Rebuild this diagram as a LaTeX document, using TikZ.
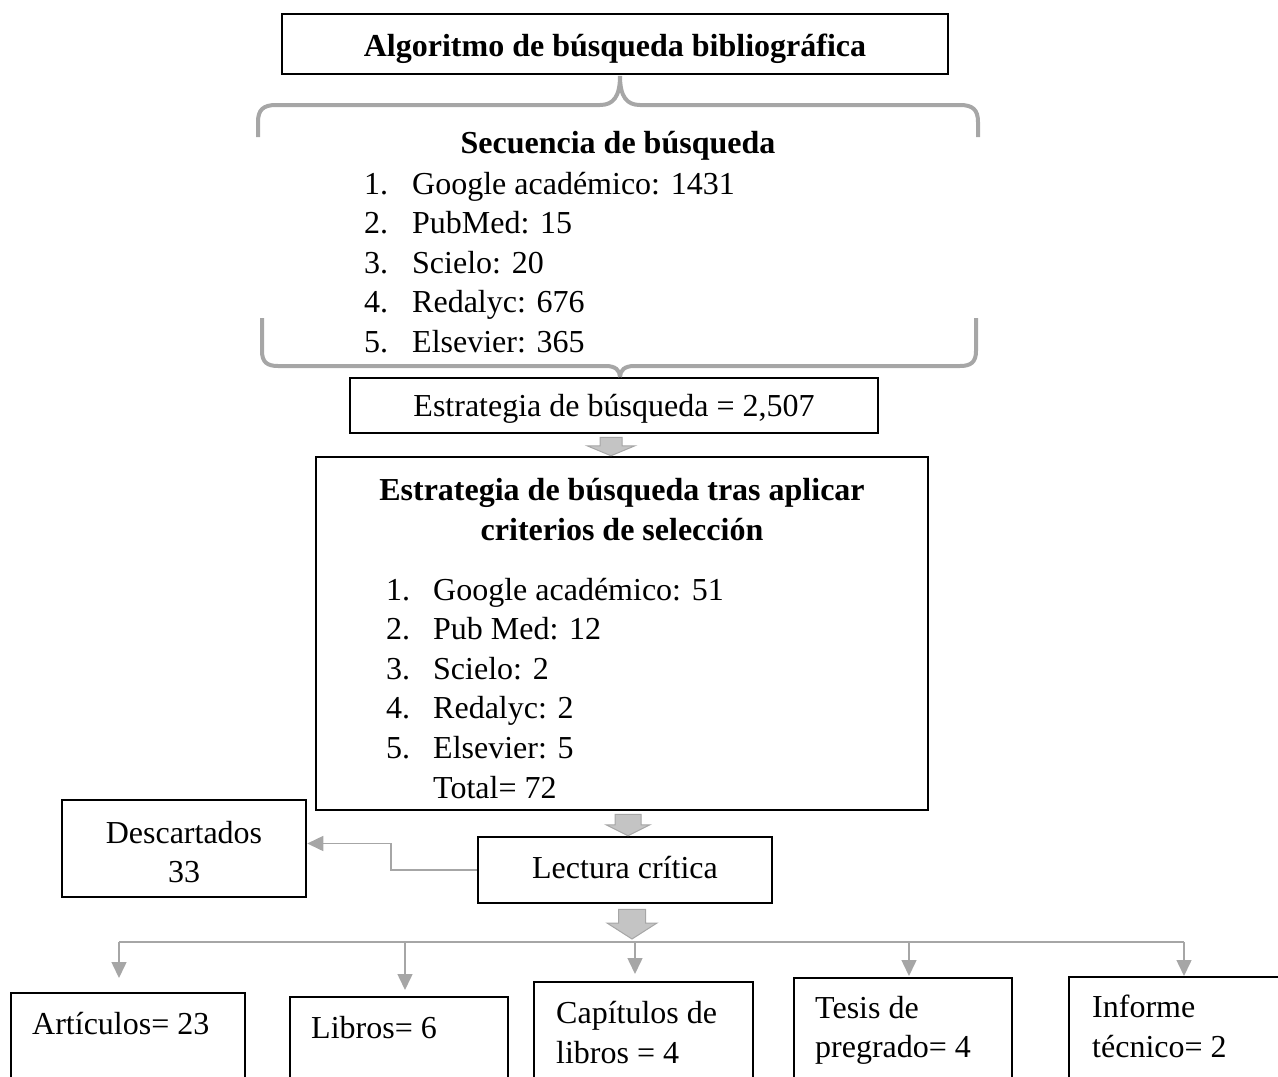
\documentclass[tikz,border=0pt]{standalone}
\usepackage{fontspec}
\setmainfont{Liberation Serif}
\usetikzlibrary{arrows.meta,calc}

\definecolor{bracegray}{HTML}{A6A6A6}
\definecolor{linegray}{HTML}{A6A6A6}
\definecolor{blockgray}{HTML}{C4C4C4}

\begin{document}
\begin{tikzpicture}[x=1pt,y=-1pt,
	every node/.style={font=\fontsize{32}{40}\selectfont, inner sep=0pt},
	box/.style={draw, line width=2.5pt},
	txt/.style={anchor=base west},
	ctxt/.style={anchor=base},
	bold/.style={anchor=base, font=\fontsize{32}{40}\selectfont\bfseries},
	brace/.style={draw=bracegray, line width=4pt},
	thinline/.style={draw=linegray, line width=1.5pt},
	thinarrow/.style={thinline, -{Triangle[width=15pt,length=16pt]}},
	blockfill/.style={fill=blockgray, draw=linegray, line width=1pt},
]

\path [use as bounding box] (0,0) rectangle (1278,1077);
\clip (0,0) rectangle (1278,1077);

% BOXES
\node [box, minimum width=666, minimum height=60] (algoritmo) at (615,44) {};
\node [box, minimum width=528, minimum height=55] (estrategia) at (614,405.5) {};
\node [box, minimum width=612, minimum height=353] (criterios) at (622,633.5) {};
\node [box, minimum width=244, minimum height=97] (descartados) at (184,848.5) {};
\node [box, minimum width=294, minimum height=66] (lectura) at (625,870) {};

% RESULT BOXES (cut by the page bottom)
\foreach \name/\l/\t/\r in {articulos/11/993/245, libros/290/997/508,
	capitulos/534/982/753, tesis/794/978/1012, informe/1069/977/1300} {
	\node [box, minimum width=\r-\l, minimum height=1110-\t]
		(\name) at ({(\l+\r)/2},{(\t+1110)/2}) {};
}

% BRACES
\draw [brace] (258,137) -- (258,122) .. controls (258,110) and (263,105) .. (276,105)
	-- (600,105) .. controls (613,105) and (620,97) .. (620,76);
\draw [brace] (978,137) -- (978,122) .. controls (978,110) and (973,105) .. (960,105)
	-- (640,105) .. controls (627,105) and (620,97) .. (620,76);
\draw [brace] (262,318) -- (262,351) .. controls (262,362) and (267,366) .. (278,366)
	-- (606,366) .. controls (615,366) and (620,370) .. (620,377);
\draw [brace] (976,318) -- (976,351) .. controls (976,362) and (971,366) .. (960,366)
	-- (634,366) .. controls (625,366) and (620,370) .. (620,377);

% BLOCK ARROWS
% #1 : from
% #2 : to (tip)
% #3 : shaft half width
% #4 : head half width
% #5 : head length
\newcommand{\blockarrow}[5]{%
	\path [blockfill] let \p1 = (#1), \p2 = (#2) in
		(\x1-#3,\y1) -- (\x1+#3,\y1) -- (\x1+#3,\y2+#5) -- (\x1+#4,\y2+#5) --
		(\x1,\y2) -- (\x1-#4,\y2+#5) -- (\x1-#3,\y2+#5) -- cycle%
}
\coordinate (bus) at (0,942);
\blockarrow{$(estrategia.south)+(-3,3)$}{criterios.north}{11pt}{24pt}{10pt};
\blockarrow{$(criterios.south)+(6,3)$}{lectura.north}{13pt}{22pt}{11pt};
\blockarrow{$(lectura.south)+(7,5)$}{$(bus)+(0,-3)$}{13.5pt}{25pt}{16pt};

% CONNECTORS
\draw [thinarrow] (lectura.west) -- ++(-86,0) |- ($(descartados.east)+(0,-5)$);
\foreach \x/\y [count=\i] in {119/978, 405/990, 635/974, 909/976, 1184/976} {
	\coordinate (tip\i) at (\x,\y);
	\draw [thinarrow] (tip\i |- bus) -- (tip\i);
}
\draw [thinline] (tip1 |- bus) -- (tip5 |- bus);

% TEXTS
\node [bold] (algoritmo-t) at (615,56) {Algoritmo de búsqueda bibliográfica};
\node [bold] (secuencia-t) at (618,153) {Secuencia de búsqueda};
\foreach \txt [count=\i] in {Google académico: 1431, PubMed: 15, Scielo: 20,
	Redalyc: 676, Elsevier: 365} {
	\node [txt] (secuencia-n\i) at (364,{194+39.5*(\i-1)}) {\i.};
	\node [txt] (secuencia-i\i) at (412,{194+39.5*(\i-1)}) {\txt};
}
\node [ctxt] (estrategia-t) at (614,416) {Estrategia de búsqueda = 2,507};

\node [bold] (criterios-t1) at (622,500) {Estrategia de búsqueda tras aplicar};
\node [bold] (criterios-t2) at (622,540) {criterios de selección};
\foreach \txt [count=\i] in {Google académico: 51, Pub Med: 12, Scielo: 2,
	Redalyc: 2, Elsevier: 5} {
	\node [txt] (criterios-n\i) at (386,{600+39.6*(\i-1)}) {\i.};
	\node [txt] (criterios-i\i) at (433,{600+39.6*(\i-1)}) {\txt};
}
\node [txt] (total) at (433,798) {Total= 72};

\node [ctxt] (descartados-t1) at (184,843) {Descartados};
\node [ctxt] (descartados-t2) at (184,882) {33};
\node [ctxt] (lectura-t) at (625,878) {Lectura crítica};

\node [txt] (articulos-t) at (32,1034) {Artículos= 23};
\node [txt] (libros-t) at (311,1038) {Libros= 6};
\node [txt] (capitulos-t1) at (556,1023) {Capítulos de};
\node [txt] (capitulos-t2) at (556,1063) {libros = 4};
\node [txt] (tesis-t1) at (815,1018) {Tesis de};
\node [txt] (tesis-t2) at (815,1057) {pregrado= 4};
\node [txt] (informe-t1) at (1092,1017) {Informe};
\node [txt] (informe-t2) at (1092,1057) {técnico= 2};

\end{tikzpicture}
\end{document}
